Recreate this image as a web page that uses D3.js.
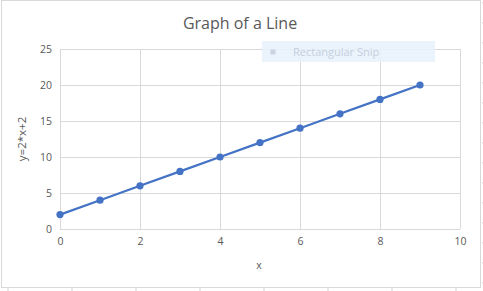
<!DOCTYPE html>
<html>
<head>
<meta charset="utf-8">
<script src="https://cdn.jsdelivr.net/npm/d3@7"></script>
<style>
  body { margin: 0; background: #fff; }
  svg text { font-family: "Open Sans", "Noto Sans", sans-serif; }
</style>
</head>
<body>
<div id="chart"></div>
<script>
// data: y = 2*x + 2
const xValues = [0, 1, 2, 3, 4, 5, 6, 7, 8, 9];
const yValues = [2, 4, 6, 8, 10, 12, 14, 16, 18, 20];
const xTicks = [0, 2, 4, 6, 8, 10];
const yTicks = [0, 5, 10, 15, 20, 25];

const W = 483, H = 291;
const margin = {top: 49, right: 23, bottom: 62, left: 60},
    width = 460 - margin.left,
    height = 229 - margin.top;

const svg = d3.select("#chart")
  .append("svg")
    .attr("width", W)
    .attr("height", H);

// spreadsheet cell edges peeking out behind the chart
svg.selectAll("cellx")
  .data(d3.range(8, W, 64))
  .join("line")
    .attr("x1", d => d).attr("x2", d => d)
    .attr("y1", 288).attr("y2", H)
    .attr("stroke", "#d4d4d4");
svg.selectAll("celly")
  .data(d3.range(3, H, 20))
  .join("line")
    .attr("x1", 482).attr("x2", W)
    .attr("y1", d => d).attr("y2", d => d)
    .attr("stroke", "#d4d4d4");

// chart area border
svg.append("rect")
  .attr("x", 1.5).attr("y", 0.5)
  .attr("width", 479).attr("height", 287)
  .attr("fill", "#fff")
  .attr("stroke", "#d9d9d9");

const g = svg.append("g")
  .attr("transform", `translate(${margin.left},${margin.top})`);

const x = d3.scaleLinear().domain([0, 10]).range([0, width]);
const y = d3.scaleLinear().domain([0, 25]).range([height, 0]);

// gridlines
g.append("g")
  .attr("transform", `translate(0,${height})`)
  .call(d3.axisBottom(x).tickValues(xTicks).tickSize(-height).tickFormat(""))
  .call(a => a.select(".domain").remove())
  .selectAll("line")
    .attr("stroke", "#d9d9d9")
    .attr("shape-rendering", "crispEdges");
g.append("g")
  .call(d3.axisLeft(y).tickValues(yTicks).tickSize(-width).tickFormat(""))
  .call(a => a.select(".domain").remove())
  .selectAll("line")
    .attr("stroke", "#d9d9d9")
    .attr("shape-rendering", "crispEdges");

// axis labels
g.append("g")
  .attr("transform", `translate(0,${height})`)
  .call(d3.axisBottom(x).tickValues(xTicks).tickSize(0).tickPadding(9))
  .call(a => a.select(".domain").remove())
  .selectAll("text")
    .attr("fill", "#595959")
    .style("font-size", "10.5px");
g.append("g")
  .call(d3.axisLeft(y).tickValues(yTicks).tickSize(0).tickPadding(8))
  .call(a => a.select(".domain").remove())
  .selectAll("text")
    .attr("fill", "#595959")
    .style("font-size", "10.5px");

// faded "Rectangular Snip" tag sitting over the chart
svg.append("rect")
  .attr("x", 262).attr("y", 41)
  .attr("width", 173).attr("height", 21)
  .attr("fill", "#e8f1fb")
  .attr("opacity", 0.85);
svg.append("rect")
  .attr("x", 270.5).attr("y", 49.5)
  .attr("width", 5).attr("height", 5)
  .attr("fill", "#c9d4e2");
svg.append("text")
  .attr("x", 293).attr("y", 56)
  .attr("fill", "#c5cfdc")
  .style("font-size", "11px")
  .text("Rectangular Snip");

// the line
const data = xValues.map((d, i) => ({x: d, y: yValues[i]}));
g.append("path")
  .datum(data)
  .attr("fill", "none")
  .attr("stroke", "#4472C4")
  .attr("stroke-width", 2.2)
  .attr("d", d3.line().x(d => x(d.x)).y(d => y(d.y)));
g.selectAll("dot")
  .data(data)
  .join("circle")
    .attr("cx", d => x(d.x))
    .attr("cy", d => y(d.y))
    .attr("r", 3.6)
    .attr("fill", "#4472C4");

// titles
svg.append("text")
  .attr("x", 240).attr("y", 29)
  .attr("text-anchor", "middle")
  .attr("fill", "#595959")
  .style("font-size", "16px")
  .text("Graph of a Line");
svg.append("text")
  .attr("x", 259).attr("y", 269)
  .attr("text-anchor", "middle")
  .attr("fill", "#595959")
  .style("font-size", "10.5px")
  .text("x");
svg.append("text")
  .attr("transform", `translate(26,${margin.top + height / 2}) rotate(-90)`)
  .attr("text-anchor", "middle")
  .attr("fill", "#595959")
  .style("font-size", "11.5px")
  .text("y=2*x+2");
</script>
</body>
</html>
